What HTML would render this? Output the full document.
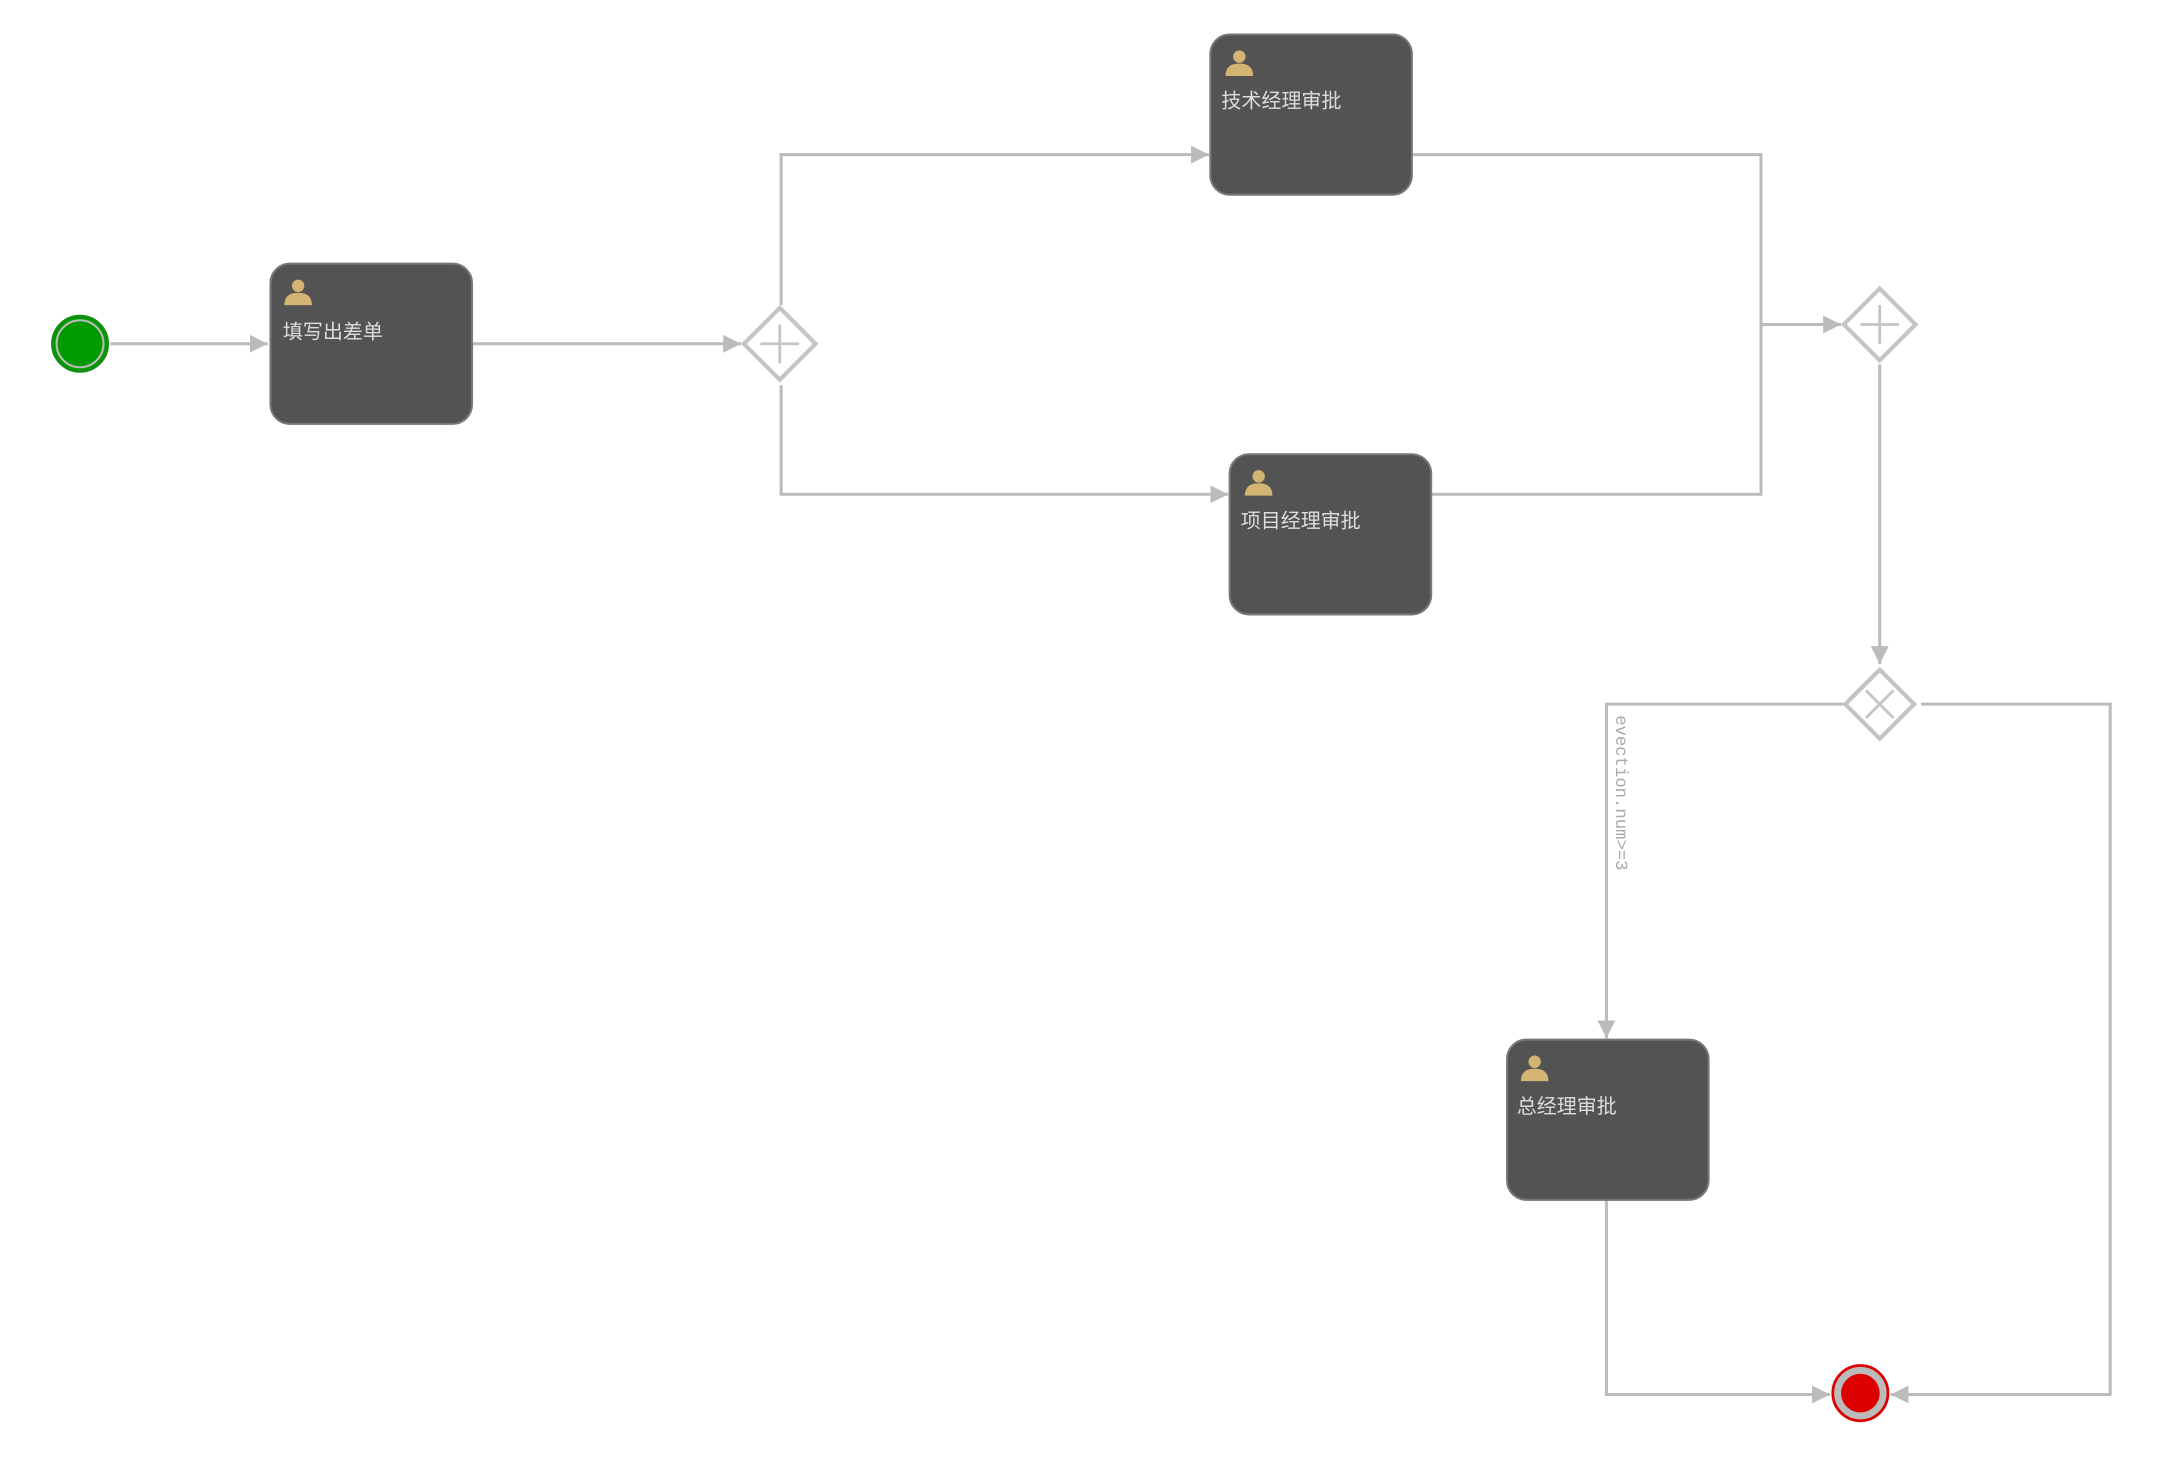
<!DOCTYPE html>
<html><head><meta charset="utf-8"><style>html,body{margin:0;padding:0;background:#fff;width:2164px;height:1458px;overflow:hidden}</style></head>
<body>
<svg width="2164" height="1458" viewBox="0 0 1568 1056" preserveAspectRatio="none" xmlns="http://www.w3.org/2000/svg">
<defs>
<marker id="a" markerWidth="13" markerHeight="13" refX="13" refY="6.5" orient="auto" markerUnits="userSpaceOnUse"><path d="M0,0 L13,6.5 L0,13 z" fill="#bbb"/></marker>
<g id="u"><circle cx="0" cy="-6" r="4.5" fill="#d4b472"/><path d="M-10,8 Q-10,-1 0,-1 Q10,-1 10,8 z" fill="#d4b472"/></g>
</defs>
<g fill="none" stroke="#bbb" stroke-width="2.2">
<path d="M80,249 H194" marker-end="url(#a)"/>
<path d="M342,249 H537" marker-end="url(#a)"/>
<path d="M566,221 V112 H876" marker-end="url(#a)"/>
<path d="M566,279 V358 H890" marker-end="url(#a)"/>
<path d="M1023,112 H1276 V358 H1037"/>
<path d="M1276,235 H1334" marker-end="url(#a)"/>
<path d="M1362,264 V481" marker-end="url(#a)"/>
<path d="M1336,510 H1164 V752" marker-end="url(#a)"/>
<path d="M1392,510 H1529 V1010 H1370" marker-end="url(#a)"/>
<path d="M1164,869 V1010 H1326" marker-end="url(#a)"/>
</g>
<circle cx="58" cy="249" r="20" fill="#009900" stroke="#109010" stroke-width="2"/>
<circle cx="58" cy="249" r="17" fill="none" stroke="#bbb" stroke-width="1.5"/>
<circle cx="1348" cy="1009" r="20" fill="#bbb" stroke="#dd0000" stroke-width="2"/>
<circle cx="1348" cy="1009" r="14" fill="#dd0000"/>
<g fill="#fff" stroke="#c4c4c4" stroke-width="3">
<path d="M565,223 L591,249 L565,275 L539,249 z"/>
<path d="M1362,209 L1388,235 L1362,261 L1336,235 z"/>
<path d="M1362,485 L1387,510 L1362,535 L1337,510 z"/>
</g>
<g stroke="#c4c4c4" stroke-width="2">
<path d="M565,235 V263 M551,249 H579"/>
<path d="M1362,221 V249 M1348,235 H1376"/>
<path d="M1352,500 L1372,520 M1372,500 L1352,520"/>
</g>
<g fill="#535353" stroke="#777" stroke-width="1.5">
<rect x="196" y="191" width="146" height="116" rx="14"/>
<rect x="877" y="25" width="146" height="116" rx="14"/>
<rect x="891" y="329" width="146" height="116" rx="14"/>
<rect x="1092" y="753" width="146" height="116" rx="14"/>
</g>
<use href="#u" x="216" y="213"/>
<use href="#u" x="898" y="47"/>
<use href="#u" x="912" y="351"/>
<use href="#u" x="1112" y="775"/>
<g fill="#ddd" font-family="'Liberation Sans','Noto Sans CJK SC',sans-serif" font-size="14.5">
<text x="205" y="245">填写出差单</text>
<text x="885" y="78">技术经理审批</text>
<text x="899" y="382">项目经理审批</text>
<text x="1099" y="806">总经理审批</text>
</g>
<text transform="translate(1171,518) rotate(90)" fill="#aaa" font-family="'Liberation Mono',monospace" font-size="12.5">evection.num&gt;=3</text>
</svg>
</body></html>
